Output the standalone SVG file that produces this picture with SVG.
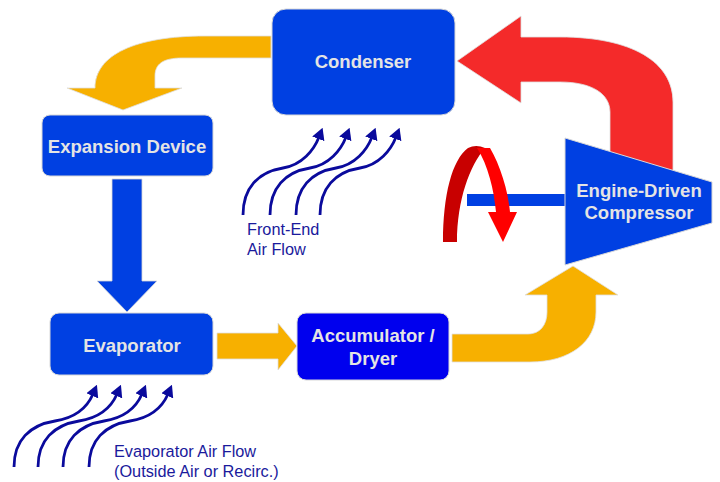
<svg xmlns="http://www.w3.org/2000/svg" width="720" height="482" viewBox="0 0 720 482">
<style>
.box{fill:#0040E2;stroke:#d8d8d8;stroke-width:1}
.acc{fill:#0000EE;stroke:#d8d8d8;stroke-width:1}
.lbl{font-family:"Liberation Sans",Arial,sans-serif;font-weight:bold;font-size:18.5px;fill:#E4E4E4;text-anchor:middle}
.note{font-family:"Liberation Sans",Arial,sans-serif;font-size:16.3px;fill:#1A1A9C}
.orange{fill:#F7B000;stroke:#e0e0e0;stroke-width:0.8}
.air{fill:none;stroke:#0A0A9C;stroke-width:2.8;marker-end:url(#ah)}
</style>
<defs>
<marker id="ah" viewBox="0 0 12 13" refX="2" refY="6.5" markerWidth="12" markerHeight="13" orient="auto" markerUnits="userSpaceOnUse">
<path d="M0,0 L12,6.5 L0,13 Z" fill="#0A0A9C"/>
</marker>
</defs>
<g id="connectors">
<path class="orange" d="M271,36 L205,36 C135,36 95,55 95,88 L67,88 L123,110 L182,88 L155,88 L155,76 C155,64 163,58 182,58 L271,58 Z"/>
<path d="M112,179 L142,179 L142,281 L157,281 L127,312 L97,281 L112,281 Z" fill="#0040E2" stroke="#d8d8d8" stroke-width="0.8"/>
<path class="orange" d="M217,333 L278,333 L278,323 L297,346 L278,370 L278,359 L217,359 Z"/>
<path class="orange" d="M452,334 L528,334 C540,334 547,325 547,312 L547,295 L525,295 L573,266 L618,295 L596,295 L596,312 C596,342 570,362 530,362 L452,362 Z"/>
<path d="M521,37 L560,37 C632,37 673,62 673,102 L673,190 L610,190 L610,112 C610,94 592,82 560,82 L521,82 L521,103 L457,61 L521,16 Z" fill="#F42A2A" stroke="#e0e0e0" stroke-width="0.8"/>
<rect x="467" y="194" width="100" height="12" fill="#0040E2"/>
<path d="M443,242 C443,195 452,160 468,148 Q476,144 485,148 C470,165 457,200 457,242 Z" fill="#C80000"/>
<path d="M477,148 L490,148 C500,165 508,190 510,212 L517,212 L503,242 L488,212 L496,212 C494,190 488,165 477,148 Z" fill="#FF0000"/>
<path class="air" d="M243,215 C243,188 258,172 283,168 C302,165 314,150 319,137"/>
<path class="air" d="M270,215 C270,188 285,172 310,168 C329,165 341,150 346,137"/>
<path class="air" d="M296,215 C296,188 311,172 336,168 C355,165 367,150 372,137"/>
<path class="air" d="M320,215 C320,188 335,172 360,168 C379,165 391,150 396,137"/>
<path class="air" d="M14,467 C14,440 30,425 55,421 C74,418 87,408 93,394"/>
<path class="air" d="M38,467 C38,440 54,425 79,421 C98,418 111,408 117,394"/>
<path class="air" d="M63,467 C63,440 79,425 104,421 C123,418 136,408 142,394"/>
<path class="air" d="M89,467 C89,440 105,425 130,421 C149,418 162,408 168,394"/>
</g>
<g id="condenser">
<rect class="box" x="272" y="9" width="183" height="106" rx="14"/>
<text class="lbl" x="363" y="68">Condenser</text>
</g>
<g id="expansion-device">
<rect class="box" x="42" y="115" width="171" height="61" rx="8"/>
<text class="lbl" x="127" y="153">Expansion Device</text>
</g>
<g id="evaporator">
<rect class="box" x="50" y="313" width="163" height="62" rx="9"/>
<text class="lbl" x="132" y="352">Evaporator</text>
</g>
<g id="accumulator">
<rect class="acc" x="297" y="313" width="152" height="67" rx="9"/>
<text class="lbl" x="373" y="342">Accumulator /</text>
<text class="lbl" x="373" y="365">Dryer</text>
</g>
<g id="compressor">
<polygon class="box" points="565,138 712,182 712,223 565,265"/>
<text class="lbl" x="639" y="197">Engine-Driven</text>
<text class="lbl" x="639" y="219">Compressor</text>
</g>
<g id="front-end-label">
<text class="note" x="247" y="235">Front-End</text>
<text class="note" x="247" y="255">Air Flow</text>
</g>
<g id="evaporator-air-label">
<text class="note" x="114" y="457">Evaporator Air Flow</text>
<text class="note" x="114" y="477">(Outside Air or Recirc.)</text>
</g>
</svg>
